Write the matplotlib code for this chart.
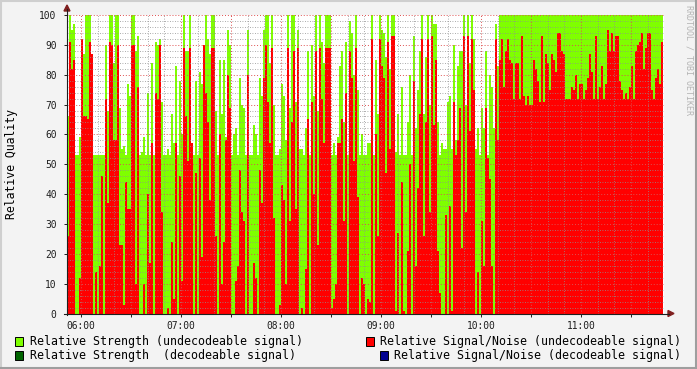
import matplotlib
matplotlib.use('Agg')
import matplotlib.pyplot as plt
from matplotlib.patches import Rectangle, Polygon
from matplotlib.lines import Line2D
from matplotlib.ticker import MultipleLocator, FuncFormatter
import numpy as np

plt.rcParams['font.family'] = ['DejaVu Sans Mono', 'DejaVu Sans']

W, H = 697, 369

# ---- data: one sample every 72 s, first sample 05:51:36 (hours) ----
t_start = 5.86
t_step = 0.02

# relative strength (green area)
strength = [
    66, 100, 95, 97, 53, 53, 59, 55, 87, 100, 100, 100, 87, 53, 53, 53, 53, 53, 53, 90,
    68, 100, 100, 84, 100, 100, 69, 55, 56, 53, 77, 73, 100, 100, 88, 93, 53,
    54, 59, 53, 74, 53, 84, 53, 91, 90, 92, 71, 53, 53, 55, 53, 67, 57, 83, 53,
    78, 60, 100, 88, 88, 100, 54, 53, 78, 53, 81, 77, 64, 100, 92, 87, 100,
    100, 68, 53, 85, 67, 85, 59, 95, 90, 53, 60, 62, 53, 79, 70, 69, 53, 95, 53,
    53, 63, 60, 53, 79, 73, 95, 100, 100, 84, 100, 70, 53, 53, 55, 77, 73, 58,
    100, 69, 100, 100, 71, 95, 55, 55, 53, 62, 88, 53, 90, 73, 100, 68, 100, 91,
    84, 100, 100, 100, 53, 57, 53, 59, 83, 88, 64, 91, 53, 98, 94, 80, 100, 75, 53,
    60, 53, 53, 57, 57, 100, 53, 85, 67, 100, 95, 94, 86, 100, 82, 100, 100, 54,
    67, 53, 76, 53, 53, 64, 80, 53, 93, 62, 75, 88, 100, 67, 86, 100, 70, 100, 97,
    97, 64, 53, 57, 55, 55, 71, 73, 55, 90, 58, 83, 88, 88, 100, 70, 100, 84, 100,
    92, 55, 62, 53, 69, 62, 88, 53, 80, 76, 62, 97, 83,
    100, 100, 100, 100, 100, 100, 100, 100, 100, 100, 100, 100, 100, 100, 100, 100,
    100, 100, 100, 100, 100, 100, 100, 100, 100, 100, 100, 100, 100, 100, 100, 100,
    100, 100, 100, 100, 100, 100, 100, 100, 100, 100, 100, 100, 100, 100, 100, 100,
    100, 100, 100, 100, 100, 100, 100, 100, 100, 100, 100, 100, 100, 100, 100, 100,
    100, 100, 100, 100, 100, 100, 100, 100, 100, 100, 100, 100, 100, 100, 100, 100,
    100, 100,
]

# relative signal/noise (red area, drawn on top)
snr = [
    26, 91, 82, 85, 0, 0, 12, 92, 66, 66, 65, 91, 87, 0, 14, 0, 16, 46, 0, 72,
    37, 91, 90, 58, 58, 90, 23, 23, 3, 44, 35, 35, 90, 90, 10, 76, 0,
    0, 10, 0, 40, 17, 57, 0, 74, 72, 90, 34, 0, 0, 2, 0, 24, 5, 57, 0,
    46, 11, 89, 66, 51, 89, 57, 0, 47, 0, 52, 19, 90, 74, 64, 38, 89,
    89, 26, 0, 60, 10, 24, 58, 80, 69, 0, 0, 11, 16, 48, 34, 31, 0, 80, 0,
    0, 17, 12, 0, 48, 37, 79, 90, 71, 57, 89, 32, 0, 0, 3, 43, 38, 10,
    89, 31, 64, 88, 35, 89, 0, 2, 0, 15, 65, 0, 71, 40, 88, 23, 89, 72,
    57, 89, 89, 89, 2, 5, 10, 57, 57, 65, 31, 74, 0, 88, 79, 51, 89, 39, 0,
    12, 10, 0, 5, 4, 92, 0, 60, 26, 92, 83, 79, 47, 91, 55, 93, 93, 1,
    27, 0, 44, 1, 0, 21, 50, 0, 78, 16, 42, 67, 92, 26, 64, 92, 34, 93, 63,
    85, 21, 7, 0, 0, 33, 0, 36, 1, 71, 53, 58, 69, 22, 93, 34, 93, 61, 92,
    75, 0, 14, 0, 31, 16, 69, 52, 45, 16, 0, 92, 58,
    85, 92, 76, 88, 92, 85, 84, 72, 84, 84, 72, 93, 73, 70, 73, 70,
    70, 85, 82, 78, 71, 93, 71, 87, 84, 75, 87, 85, 81, 94, 94, 88,
    87, 72, 72, 72, 76, 75, 80, 72, 77, 77, 72, 75, 79, 87, 81, 72,
    93, 72, 76, 83, 72, 77, 95, 88, 94, 88, 93, 93, 78, 75, 72, 74,
    72, 76, 83, 72, 88, 90, 91, 94, 82, 89, 94, 94, 75, 72, 79, 82,
    77, 91,
]

legend_labels = [
    'Relative Strength (undecodeable signal)',
    'Relative Signal/Noise (undecodeable signal)',
    'Relative Strength  (decodeable signal)',
    'Relative Signal/Noise (decodeable signal)',
]
legend_colors = ['#7FFF00', '#FF0000', '#006400', '#000090']

# rrdtool default palette
BACK = '#F3F3F3'
SHADE_A = '#CFCFCF'
SHADE_B = '#9E9E9E'
GRID = (0.56, 0.56, 0.56, 0.45)
MGRID = (0.87, 0.31, 0.31, 0.55)
ARROW = '#802020'
AXIS = '#1F1F1F'


def fx(x):
    return x / W


def fy(y):
    return 1 - y / H


fig = plt.figure(figsize=(W / 100, H / 100), dpi=100)
fig.patch.set_facecolor(BACK)

# plot area: x 67..664 px, y 15..313.5 px
ax = fig.add_axes([fx(67), fy(313.5), fx(664 - 67), (313.5 - 15) / H])
ax.set_facecolor('white')

n = len(strength)
edges = t_start + t_step * np.arange(n + 1)
ax.stairs(strength, edges, fill=True, color='#7FFF00', baseline=0, lw=0)
ax.stairs(snr, edges, fill=True, color='#FF0000', baseline=0, lw=0)

ax.set_xlim(t_start, 11.83)
ax.set_ylim(0, 100)

ax.yaxis.set_major_locator(MultipleLocator(10))
ax.yaxis.set_minor_locator(MultipleLocator(2))
ax.xaxis.set_major_locator(MultipleLocator(0.5))
ax.xaxis.set_minor_locator(MultipleLocator(1 / 6))


def hour_fmt(v, pos):
    if abs(v - round(v)) < 1e-6:
        return '%02d:00' % int(round(v))
    return ''


ax.xaxis.set_major_formatter(FuncFormatter(hour_fmt))

ax.set_axisbelow(False)
ax.grid(which='minor', color=GRID, linestyle=(0, (1, 2)), linewidth=0.6)
ax.grid(which='major', color=MGRID, linestyle=(0, (1, 2)), linewidth=0.7)

for s in ax.spines.values():
    s.set_visible(False)

ax.tick_params(axis='both', which='major', labelsize=6.9, colors=AXIS,
               length=2.5, width=0.7, pad=3)
ax.tick_params(axis='both', which='minor', length=0)
ax.tick_params(axis='y', pad=5)

# axis lines with arrows
fig.add_artist(Line2D([fx(67), fx(67)], [fy(315), fy(9)], color=AXIS, lw=0.8))
fig.add_artist(Line2D([fx(64), fx(669)], [fy(313.5), fy(313.5)], color=AXIS, lw=0.8))
fig.add_artist(Polygon([[fx(64), fy(11)], [fx(70), fy(11)], [fx(67), fy(5)]],
                       closed=True, color=ARROW, transform=fig.transFigure))
fig.add_artist(Polygon([[fx(668), fy(310.5)], [fx(668), fy(316.5)], [fx(674), fy(313.5)]],
                       closed=True, color=ARROW, transform=fig.transFigure))

# y label and watermark
fig.text(fx(12), fy(164), 'Relative Quality', rotation=90, fontsize=8.3,
         ha='center', va='center')
fig.text(fx(689), fy(5), 'RRDTOOL / TOBI OETIKER', rotation=270, fontsize=6,
         ha='center', va='top', color='#B4B4B4')

# legend (two columns, right column right-justified)
rows = [341.5, 355.5]
legend_pos = [(15, 30, rows[0]), (366, 380, rows[0]),
              (15, 30, rows[1]), (380, 394, rows[1])]
for (bx, tx, ty), lab, col in zip(legend_pos, legend_labels, legend_colors):
    fig.add_artist(Rectangle((fx(bx), fy(ty + 4.5)), 8 / W, 9 / H, facecolor=col,
                             edgecolor='black', lw=0.7, transform=fig.transFigure))
    fig.text(fx(tx), fy(ty), lab, fontsize=8.4, ha='left', va='center')

# 3d frame
fig.add_artist(Line2D([0, 1], [fy(1), fy(1)], color=SHADE_A, lw=1.5))
fig.add_artist(Line2D([fx(1), fx(1)], [0, 1], color=SHADE_A, lw=1.5))
fig.add_artist(Line2D([0, 1], [fy(368), fy(368)], color=SHADE_B, lw=1.5))
fig.add_artist(Line2D([fx(696), fx(696)], [0, 1], color=SHADE_B, lw=1.5))

fig.savefig('out.png', dpi=100, facecolor=BACK)
